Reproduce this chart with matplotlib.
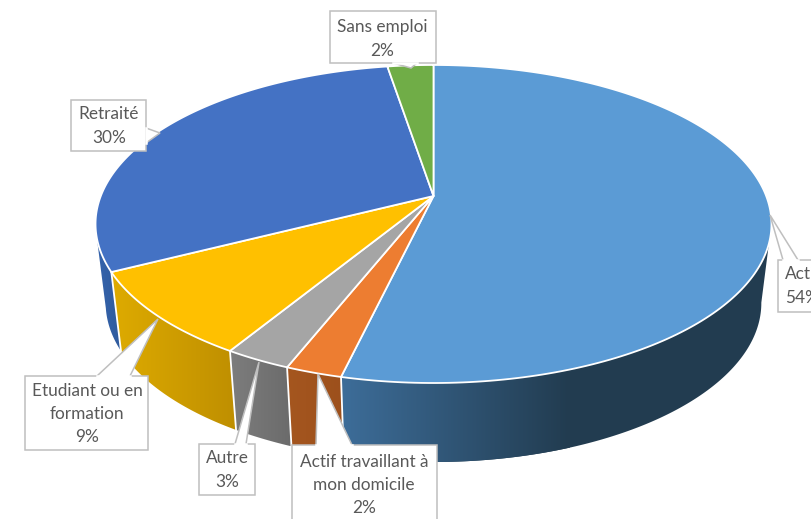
#!/usr/bin/env python3

import numpy as np
import matplotlib
matplotlib.use("Agg")
import matplotlib.pyplot as plt
from matplotlib.patches import Polygon
from matplotlib.colors import LinearSegmentedColormap

plt.rcParams["font.family"] = ["Lato", "DejaVu Sans"]

categories = ["Actif", "Actif travaillant à\nmon domicile", "Autre",
              "Etudiant ou en\nformation", "Retraité", "Sans emploi"]
shares = [53.7, 2.3, 2.7, 8.8, 29.9, 2.6]
percents = ["54%", "2%", "3%", "9%", "30%", "2%"]

top_colors = ["#5b9bd5", "#ed7d31", "#a5a5a5", "#ffc000", "#4472c4", "#70ad47"]
wall_left = ["#3d6d99", "#a5561f", "#7d7d7d", "#deab00", "#3564ad", "#70ad47"]
wall_right = ["#223c50", "#9c501c", "#6b6b6b", "#bf8f00", "#2f5a9c", "#70ad47"]

# callout boxes: box corners, then the pointer as base point, tip, base point
boxes = [(778, 830, 260, 312), (292, 437, 445, 530), (199, 255, 444, 495),
         (25, 148, 376, 450), (71, 146, 100, 151), (330, 436, 11, 63)]
pointers = [[(783, 260), (770, 215), (798, 260)],
            [(316, 445), (318, 374), (352, 445)],
            [(235, 444), (259, 362), (246, 444)],
            [(97, 376), (158, 319), (130, 376)],
            [(146, 128), (160, 133), (146, 143)],
            [(393, 63), (411, 68), (417, 63)]]
text_x = [785, 364, 227, 87, 109, 382]
text_y = [286, 485, 470, 414, 126, 39]
text_ha = ["left", "center", "center", "center", "center", "center"]

CX, CY = 433.5, 196
PERSP = -0.176
K = 332.7
A = 119.6
DEPTH = 79
SHRINK = 0.97


def project(deg, depth=0.0):
    # clockwise angle from 12 o'clock to pixel position, with perspective
    t = np.radians(deg)
    u, v = np.sin(t), -np.cos(t)
    w = 1 + PERSP * v
    scale = 1 - (1 - SHRINK) * depth
    return CX + K * scale * u / w, (A * v + CY) / w + DEPTH * depth


def arc(d1, d2, depth=0.0):
    d = np.linspace(d1, d2, 200)
    x, y = project(d, depth)
    return np.column_stack([x, y])


fig = plt.figure(figsize=(8.11, 5.19), dpi=100)
ax = fig.add_axes([0, 0, 1, 1])
ax.set_axis_off()

edges = np.cumsum([0] + shares) * 3.6
edges[-1] = 360

# side wall, only the slices facing the viewer
wall_ranges = [(100, edges[1]), (edges[1], edges[2]), (edges[2], edges[3]),
               (edges[3], edges[4]), (edges[4], 258)]
for i, (d1, d2) in enumerate(wall_ranges):
    pts = np.vstack([arc(d1, d2), arc(d1, d2, 1)[::-1]])
    x0, x1 = pts[:, 0].min(), pts[:, 0].max()
    if i == 0:
        x1 = 570
    cmap = LinearSegmentedColormap.from_list("w", [wall_left[i], wall_right[i]])
    im = ax.imshow(np.linspace(0, 1, 256)[None, :], cmap=cmap, aspect="auto",
                   extent=(x0, x1, pts[:, 1].max(), pts[:, 1].min()), zorder=2)
    patch = Polygon(pts, closed=True, fc="none", ec="none")
    ax.add_patch(patch)
    im.set_clip_path(patch)
    if i == 0:
        # the rest of the wall stays at the darkest tone
        rest = Polygon(pts, closed=True, fc=wall_right[0], ec="none", zorder=1.5)
        ax.add_patch(rest)
    if i > 0:
        seam = np.vstack([arc(d1, d1)[:1], arc(d1, d1, 1)[:1]])
        ax.plot(seam[:, 0], seam[:, 1], color="white", lw=1.3, zorder=3)

# top face
for i in range(len(shares)):
    pts = np.vstack([[CX, CY], arc(edges[i], edges[i + 1])])
    ax.add_patch(Polygon(pts, closed=True, fc=top_colors[i], ec="white",
                         lw=1.3, joinstyle="round", zorder=4))

# callouts
for i, cat in enumerate(categories):
    x0, x1, y0, y1 = boxes[i]
    ax.add_patch(Polygon([(x0, y0), (x1, y0), (x1, y1), (x0, y1)], closed=True,
                         fc="white", ec="#bfbfbf", lw=1.1, zorder=5))
    ax.add_patch(Polygon(pointers[i], closed=False, fc="white", ec="#bfbfbf",
                         lw=1.1, zorder=6))
    base = np.array([pointers[i][0], pointers[i][2]])
    ax.plot(base[:, 0], base[:, 1], color="white", lw=1.8, zorder=6.5)
    ax.text(text_x[i], text_y[i], cat + "\n" + percents[i], ha=text_ha[i],
            va="center", multialignment=text_ha[i], fontsize=12.4,
            color="#595959", linespacing=1.57, zorder=7)

ax.set_xlim(0, 811)
ax.set_ylim(519, 0)
fig.savefig("out.png", dpi=100, facecolor="white")
